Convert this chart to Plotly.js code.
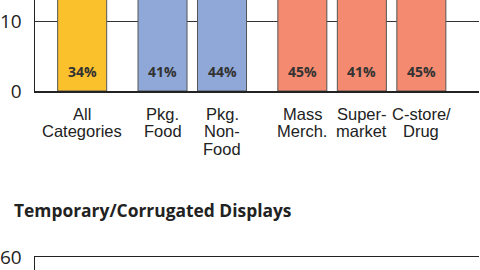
<!DOCTYPE html>
<html>
<head>
<meta charset="utf-8">
<script src="https://cdn.plot.ly/plotly-3.0.1.min.js"></script>
<style>html,body{margin:0;padding:0;background:#fff;}#chart{width:480px;height:270px;}</style>
</head>
<body>
<div id="chart"></div>
<script>
// ---- data ----
const categories = ["All\nCategories", "Pkg.\nFood", "Pkg.\nNon-\nFood", "Mass\nMerch.", "Super-\nmarket", "C-store/\nDrug"];
const groupOf = [0, 1, 1, 2, 2, 2];
const values = [34, 41, 44, 45, 41, 45];
const valueLabels = ["34%", "41%", "44%", "45%", "41%", "45%"];
const yTicks = [0, 10];
const secondTitle = "Temporary/Corrugated Displays";
const secondTicks = [60];

// ---- styling / layout helpers ----
const groupColors = ["#FBC12C", "#8FA8D8", "#F48A6F"];
const groupGap = 0.35;
const xpos = categories.map((c, i) => i + groupOf[i] * groupGap);
const W = 480, H = 270;
const ML = 35, MR = 1;
const plotW = W - ML - MR;
const zeroPx = 91;           // pixel row of zero line
const topRange = 13.06;

const traces = [{
  type: "bar",
  x: xpos,
  y: values,
  width: 0.824,
  marker: {color: values.map((v, i) => groupColors[groupOf[i]]), line: {color: "#555", width: 1}},
  hoverinfo: "none",
  xaxis: "x", yaxis: "y"
}, {
  type: "scatter", x: [], y: [], xaxis: "x2", yaxis: "y2", hoverinfo: "none"
}];

const annotations = [];
// value labels inside the bars
values.forEach((v, i) => {
  annotations.push({
    xref: "x", yref: "y", x: xpos[i], y: 0, yanchor: "middle", xanchor: "center",
    yshift: 19.5, text: valueLabels[i], showarrow: false,
    font: {family: "Open Sans", size: 14, color: "#333", weight: 700}
  });
});
// category labels (line by line)
const lineCenters = [113.5, 131, 148.5];
categories.forEach((c, i) => {
  c.split("\n").forEach((ln, k) => {
    annotations.push({
      xref: "x", yref: "paper", x: xpos[i], y: (H - lineCenters[k]) / H,
      xanchor: "center", yanchor: "middle", text: ln, showarrow: false,
      font: {family: "Liberation Sans", size: 16.5, color: "#222"}
    });
  });
});
annotations.push({
  xref: "paper", yref: "paper", x: (12 - ML) / plotW, y: (H - 209.5) / H, xanchor: "left", yanchor: "middle",
  text: "<b>" + secondTitle + "</b>", showarrow: false,
  font: {family: "Open Sans", size: 17.4, color: "#222"}
});

const axLine = {showline: true, linecolor: "#222", linewidth: 1.5};
const layout = {
  width: W, height: H,
  margin: {l: ML, r: MR, t: 0, b: 0},
  paper_bgcolor: "#fff", plot_bgcolor: "rgba(0,0,0,0)",
  showlegend: false,
  xaxis: Object.assign({}, axLine, {
    domain: [0, 1], anchor: "y",
    range: [-0.793, 6.669], showgrid: false, zeroline: false,
    showticklabels: false, ticks: ""
  }),
  yaxis: Object.assign({}, axLine, {
    domain: [(H - zeroPx) / H, 1], anchor: "x",
    range: [0, topRange], tickvals: yTicks,
    showgrid: true, gridcolor: "#333", gridwidth: 1.5, zeroline: false,
    ticks: "outside", ticklen: 8, tickcolor: "rgba(0,0,0,0)",
    tickfont: {family: "Open Sans", size: 19, color: "#222"}
  }),
  xaxis2: Object.assign({}, axLine, {
    domain: [0, 1], anchor: "y2", side: "top",
    range: [0, 1], showgrid: false, zeroline: false, showticklabels: false, ticks: ""
  }),
  yaxis2: Object.assign({}, axLine, {
    domain: [0, 13 / H], anchor: "x2",
    range: [58.2, 60.001], tickvals: secondTicks,
    showgrid: false, zeroline: false,
    ticks: "outside", ticklen: 8, tickcolor: "rgba(0,0,0,0)",
    tickfont: {family: "Open Sans", size: 19, color: "#222"}
  }),
  annotations: annotations
};

Plotly.newPlot("chart", traces, layout, {staticPlot: true, displayModeBar: false});
</script>
</body>
</html>
